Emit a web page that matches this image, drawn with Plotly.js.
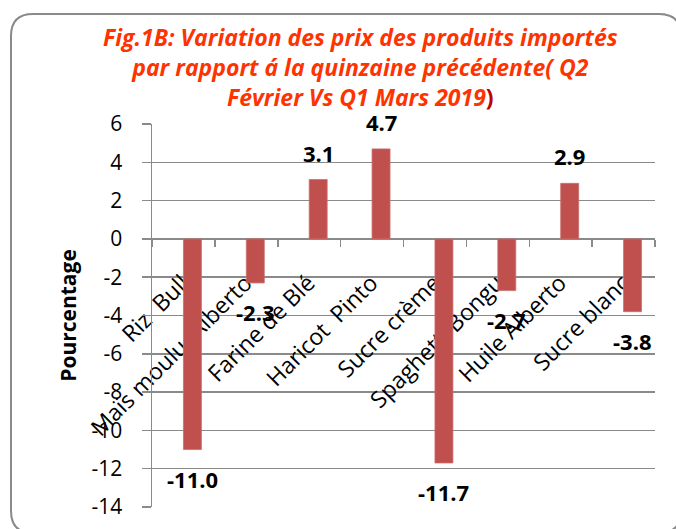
<!DOCTYPE html>
<html>
<head>
<meta charset="utf-8">
<script src="https://cdn.plot.ly/plotly-3.0.1.min.js"></script>
<style>html,body{margin:0;padding:0;background:#fff;}#chart{width:676px;height:529px;}</style>
</head>
<body>
<div id="chart"></div>
<script>
// Data
var categories = ["Riz  Bull", "Maïs moulu  Alberto", "Farine de Blé", "Haricot  Pinto", "Sucre crème", "Spaghetti Bongu", "Huile Alberto", "Sucre blanc"];
var values = [-11.0, -2.3, 3.1, 4.7, -11.7, -2.7, 2.9, -3.8];
var yTicks = [6, 4, 2, 0, -2, -4, -6, -8, -10, -12, -14];
var yTickText = ["6", "4", "2", "0", "-2", "-4", "-6", "-8", "-10", "-12", "-14"];

var barWidth = 0.286;

var trace = {
  type: "bar",
  x: categories,
  y: values,
  width: barWidth,
  offset: 0,
  marker: {color: "#C0504D", line: {color: "#C9706D", width: 0.8}},
  hoverinfo: "x+y"
};

// Plot area geometry (px) for decoration conversion
var L = 152, T = 124, W = 503, H = 383;
function px(x){ return (x - L) / W; }
function py(y){ return (T + H - y) / H; }

var annotations = values.map(function(v, i){
  return {
    x: i + barWidth / 2, y: v, xref: "x", yref: "y",
    text: "<b>" + v.toFixed(1) + "</b>",
    showarrow: false,
    yshift: v >= 0 ? 27 : -29,
    font: {family: "Open Sans", size: 22, color: "#000"}
  };
});

annotations.push({
  xref: "paper", yref: "paper", x: px(360), y: py(19), xanchor: "center", yanchor: "top",
  showarrow: false, align: "center",
  text: "<b><i>Fig.1B: Variation des prix des produits importés<br>par rapport á la quinzaine précédente( Q2<br>Février Vs Q1 Mars 2019</i><span style='color:#C00000'>)</span></b>",
  font: {family: "Open Sans", size: 23, color: "#FF3300"}
});

// rounded border path
var bx0 = 11, by0 = 14, bx1 = 681, by1 = 533, r = 22;
var path = "M " + px(bx0) + "," + py(by0 + r) +
  " Q " + px(bx0) + "," + py(by0) + " " + px(bx0 + r) + "," + py(by0) +
  " L " + px(bx1 - r) + "," + py(by0) +
  " Q " + px(bx1) + "," + py(by0) + " " + px(bx1) + "," + py(by0 + r) +
  " L " + px(bx1) + "," + py(by1 - r) +
  " Q " + px(bx1) + "," + py(by1) + " " + px(bx1 - r) + "," + py(by1) +
  " L " + px(bx0 + r) + "," + py(by1) +
  " Q " + px(bx0) + "," + py(by1) + " " + px(bx0) + "," + py(by1 - r) + " Z";

var layout = {
  width: 676, height: 529,
  margin: {l: L, r: 676 - L - W, t: T, b: 529 - T - H, pad: 0},
  paper_bgcolor: "#fff", plot_bgcolor: "#fff",
  showlegend: false,
  xaxis: {
    type: "category",
    range: [-0.5, 7.5],
    tickangle: -45,
    anchor: "free",
    position: 14 / 20,
    layer: "below traces",
    showline: true, linecolor: "#8a8a8a", linewidth: 1.5,
    showgrid: false, zeroline: false,
    ticks: "outside", tickson: "boundaries", ticklen: 7, tickcolor: "#8a8a8a", tickwidth: 1.5,
    ticklabelstandoff: 20,
    ticklabelshift: -1,
    tickfont: {family: "Open Sans", size: 23, color: "#000"},
    automargin: false,
    fixedrange: true
  },
  yaxis: {
    range: [-14, 6],
    tickmode: "array", tickvals: yTicks, ticktext: yTickText,
    showline: true, linecolor: "#8a8a8a", linewidth: 1.5,
    showgrid: true, gridcolor: "#8a8a8a", gridwidth: 1.5,
    zeroline: false,
    ticks: "outside", ticklen: 9, tickcolor: "#8a8a8a", tickwidth: 1.5,
    ticklabelstandoff: 15,
    tickfont: {family: "Open Sans", size: 21, color: "#000"},
    title: {text: "<b>Pourcentage</b>", font: {family: "Open Sans", size: 21, color: "#000"}, standoff: 9},
    automargin: false,
    fixedrange: true
  },
  annotations: annotations,
  shapes: [{type: "path", xref: "paper", yref: "paper", path: path, line: {color: "#8a8a8a", width: 2}, fillcolor: "rgba(0,0,0,0)", layer: "below"}]
};

Plotly.newPlot("chart", [trace], layout, {displayModeBar: false, staticPlot: true});
</script>
</body>
</html>
